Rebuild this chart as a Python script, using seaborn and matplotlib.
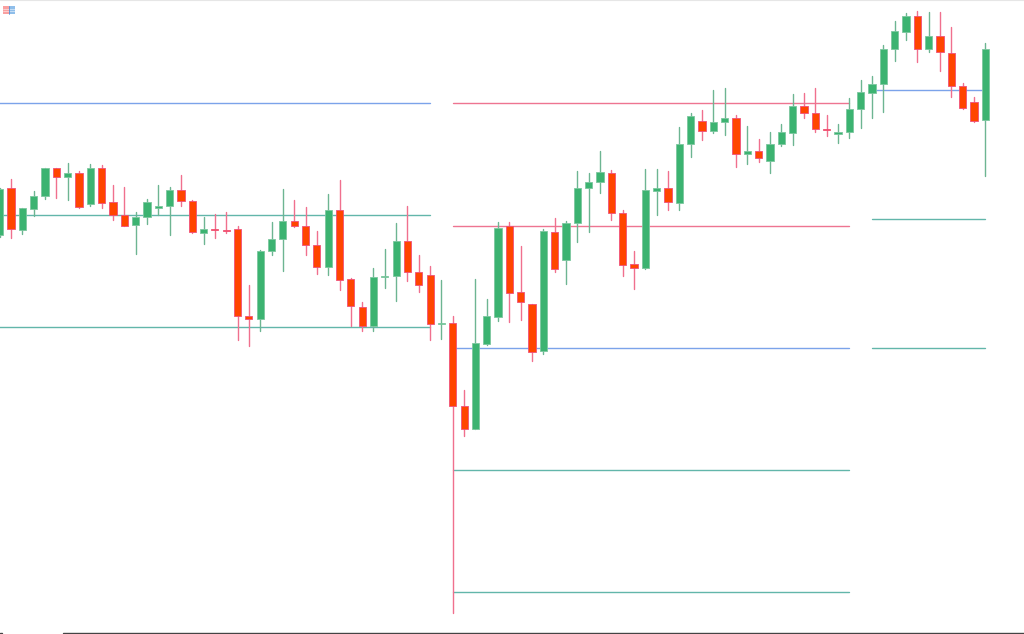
import matplotlib
matplotlib.use("Agg")
import matplotlib.pyplot as plt
from matplotlib.patches import Rectangle
import numpy as np
import pandas as pd
import seaborn as sns

# Levels are read from the picture (chart has no visible scale; larger = lower on screen)
up = [1,0,1,1,1,0,1,0,1,0,0,0,1,1,1,1,0,0,1,0,0,0,0,1,1,1,0,0,0,1,0,0,0,1,1,1,0,0,0,1,
      0,0,1,1,1,0,0,0,1,0,1,1,1,1,0,0,0,1,1,0,1,1,0,1,1,0,1,0,1,1,1,0,0,0,1,1,1,1,1,1,
      1,0,1,0,0,0,0,1]
body_top = [189,188.3,208.3,196.3,168.7,168.7,173,173,168,168,202.7,215.3,217.3,202.7,206.3,190,190,201.3,229.7,229,
            230,229.7,316,251.7,239.7,221.3,221.3,226.3,245.3,210,210,279.3,307,277.3,276.3,241,241,272.3,275.7,323.3,
            323.3,406,343.7,316,228,226.3,292.7,304,231.7,232.7,223.3,188,182.3,172.3,173,213.3,264.3,190,188,188,
            144.7,116,121.3,122,118.3,118,151,151.3,144.7,132.7,105.7,106.3,113,129,132,109.3,92.3,84,49.3,31.3,
            15.7,15.7,36.3,35.7,52.7,86,102.3,49.3]
body_bottom = [235.7,229.3,230,209,196.7,177.7,177.7,207.3,204,203,215.7,226,225.7,217.3,208,206.7,201.7,232.7,233.3,230.7,
               231,316.7,319.3,319,251.7,239.7,226.3,245.3,267.3,267.7,280,306.3,326.7,326.7,277,276.7,272.3,285.7,324,324.3,
               406,429,429.7,344,317.7,293.7,302.3,352.3,351.7,269.7,260.7,223.7,188,182.3,213.7,265.3,268.3,268.3,191,202.3,
               203,144.7,131.7,131.7,122.3,154.7,154.7,158.3,161,144.7,132.7,113,129.3,130.7,134.3,132,109.3,93.3,84,49.3,
               32.3,49.3,49.3,52,86,108.7,121.7,120.7]
wick_top = [188,179,208,191.3,168,168.7,163.3,171.7,164.3,165.3,185,187,212.3,199.3,185.3,187.7,175.7,200,217.7,214,
            212.3,226.7,285,250,222.3,189,200,207.7,231,194,180.7,278.3,302,268,249.3,223.3,206.3,255.7,266.3,280,
            316,390,279.3,299,222,222,246.7,304,229,218.3,221.7,171.7,173.7,151,170,210.7,251,169.3,169.3,171.3,
            127.7,113.3,110.3,90,88.3,115.3,126.3,139.7,132.3,124,94.3,93,88.7,115,124.3,98.7,80,76,45,21.3,
            13.3,11,12.3,12.3,27,83.7,97.3,43.3]
wick_bottom = [237,238,234.7,216.7,199.7,198.3,200.3,208,206.7,208,220,226,254.7,224.7,215.7,235.7,206.7,233.3,244.7,238.3,
               233.7,340.7,346,331.3,255.7,271,227,255.7,274,275.3,290.7,326.7,331.3,331.3,288,301.3,281,292.3,340.7,339,
               613,436,429.7,345.3,321.3,322,320,361,354.7,272.7,284.3,242,232,193.7,220.7,276,289.3,269.7,215.7,210,
               210.7,157,140,133,135.7,167.7,164,162,173,146.7,145,118.7,132.7,136.3,143,138.7,128,118,112.3,61.3,
               40.3,62.7,52.7,71.7,97,109.7,122.7,176]

level_values = [103.5,215,327, 103.5,226,348,470,592, 90,219,348]
level_starts = [-0.03,-0.03,-0.03, 40,40,40,40,40, 77,77,77]
level_ends   = [38,38,38, 75,75,75,75,75, 87,87,87]
level_kinds  = ["blue","teal","teal","red","red","blue","teal","teal","blue","teal","teal"]

GREEN, RED = "#3CB371", "#FF4500"
WICK = {1: "#6DB592", 0: "#F0708E"}
LEVEL = {"blue": "#7BA3EA", "teal": "#62B6AA", "red": "#EE7591"}

sns.set_theme(style="white")
fig = plt.figure(figsize=(10.24, 6.34), dpi=100, facecolor="white")
ax = fig.add_axes([0, 0, 1, 1])
n = len(up)
idx = np.arange(n)

# level lines
lv = pd.DataFrame({"seg": np.repeat(np.arange(len(level_values)), 2),
                   "x": np.ravel(np.column_stack([level_starts, level_ends])),
                   "y": np.repeat(level_values, 2),
                   "kind": np.repeat(level_kinds, 2)})
sns.lineplot(data=lv, x="x", y="y", units="seg", estimator=None, hue="kind",
             palette=LEVEL, linewidth=1.0, legend=False, ax=ax, zorder=2, sort=False)

# wicks
wk = pd.DataFrame({"i": np.repeat(idx, 2), "x": np.repeat(idx, 2).astype(float),
                   "y": np.ravel(np.column_stack([wick_top, wick_bottom])),
                   "up": np.repeat(up, 2)})
sns.lineplot(data=wk, x="x", y="y", units="i", estimator=None, hue="up",
             palette=WICK, linewidth=1.0, legend=False, ax=ax, zorder=3, sort=False)

# bodies
top = np.array(body_top); bottom = np.array(body_bottom); u = np.array(up, bool)
for mask, col, edge in [(u, GREEN, "#7CC79F"), (~u, RED, "#F0507A")]:
    ax.bar(idx[mask], (bottom - top)[mask], bottom=top[mask], width=0.64,
           color=col, edgecolor=edge, linewidth=0.6, zorder=4)

ax.set_xlim(0.4 / 11.33, (1024 + 0.4) / 11.33)
ax.set_ylim(634.2, 0.2)
ax.axis("off")

# frame decoration: top hairline, bottom bar, corner icon
ov = fig.add_axes([0, 0, 1, 1], facecolor="none")
ov.set_xlim(0, 1024); ov.set_ylim(634, 0); ov.axis("off")
ov.plot([0, 1024], [0.4, 0.4], color="#E6E6E6", lw=0.8)
ov.plot([63, 1024], [633.4, 633.4], color="#444444", lw=1.0)
ov.plot([0, 2], [633.4, 633.4], color="#444444", lw=1.0)
ov.add_patch(Rectangle((3, 6), 6, 8, fc="#F9A0A0", ec="none"))
ov.add_patch(Rectangle((9, 6), 5.5, 8, fc="#8FBEEA", ec="none"))
for yy in (8.5, 11):
    ov.plot([3, 14.5], [yy, yy], color="#FFFFFF", lw=0.5, alpha=0.7)
ov.plot([9, 9], [6, 14], color="#5B8FD0", lw=0.6)

fig.savefig("out.png", dpi=100, facecolor="white")
